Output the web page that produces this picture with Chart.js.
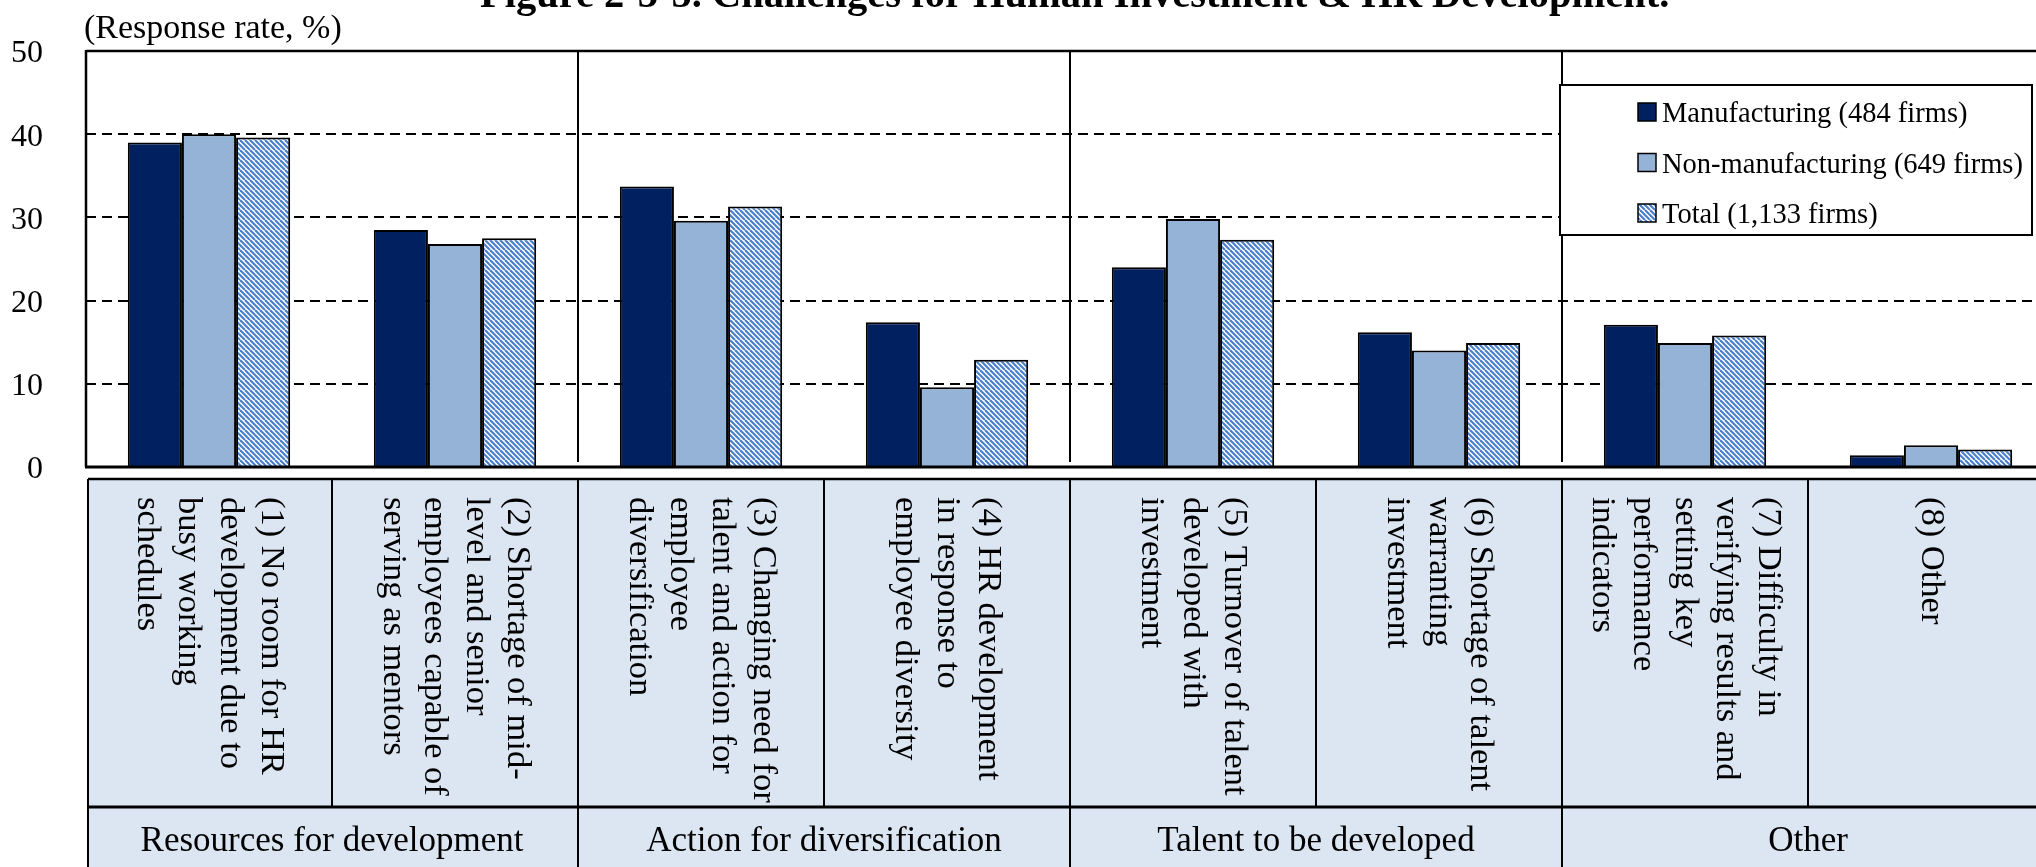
<!DOCTYPE html>
<html>
<head>
<meta charset="utf-8">
<script src="https://cdn.jsdelivr.net/npm/chart.js@4.4.1/dist/chart.umd.min.js"></script>
<style>
  html, body { margin: 0; padding: 0; background: #fff; overflow: hidden; width: 2036px; height: 867px; }
  #wrap { position: absolute; left: 0; top: 0; width: 2060px; height: 867px; }
  canvas { display: block; }
</style>
</head>
<body>
<div id="wrap"><canvas id="chart" width="2060" height="867" style="width:2060px;height:867px"></canvas></div>
<script>
// ---- data ----
const chartTitle = "Figure 2-3-5. Challenges for Human Investment & HR Development.";
const axisTitle = "(Response rate, %)";

const categoryLines = [
  ["(1) No room for HR", "development due to", "busy working", "schedules"],
  ["(2) Shortage of mid-", "level and senior", "employees capable of", "serving as mentors"],
  ["(3) Changing need for", "talent and action for", "employee", "diversification"],
  ["(4) HR development", "in response to", "employee diversity"],
  ["(5) Turnover of talent", "developed with", "investment"],
  ["(6) Shortage of talent", "warranting", "investment"],
  ["(7) Difficulty in", "verifying results and", "setting key", "performance", "indicators"],
  ["(8) Other"]
];
const groupNames = ["Resources for development", "Action for diversification", "Talent to be developed", "Other"];
const groupSpans = [2, 2, 2, 2];

const seriesNames = ["Manufacturing (484 firms)", "Non-manufacturing (649 firms)", "Total (1,133 firms)"];
const manufacturing    = [39.0, 28.5, 33.7, 17.4, 24.0, 16.2, 17.1, 1.4];
const nonManufacturing = [40.0, 26.8, 29.6,  9.6, 29.8, 14.0, 14.9, 2.6];
const total            = [39.6, 27.5, 31.3, 12.9, 27.3, 14.9, 15.8, 2.1];

const yTicks = [0, 10, 20, 30, 40, 50];

// ---- styles ----
const SERIF = "'Liberation Serif', 'Times New Roman', serif";
const NAVY = "#002060";
const LIGHT = "#95B3D7";
const TABLE_FILL = "#DCE6F2";

function hatchPattern() {
  const t = document.createElement("canvas");
  t.width = 10; t.height = 10;
  const g = t.getContext("2d");
  g.fillStyle = "#ffffff";
  g.fillRect(0, 0, 10, 10);
  g.strokeStyle = "#4A7FCC";
  g.lineWidth = 2.2;
  for (let k = -2; k <= 2; k++) {
    g.beginPath();
    g.moveTo(k * 5, 0);
    g.lineTo(k * 5 + 10, 10);
    g.stroke();
  }
  return g.createPattern(t, "repeat");
}
const HATCH = hatchPattern();

Chart.defaults.font.family = SERIF;
Chart.defaults.color = "#000";

function line(ctx, x1, y1, x2, y2) {
  ctx.beginPath();
  ctx.moveTo(x1, y1);
  ctx.lineTo(x2, y2);
  ctx.stroke();
}

// frame, category table, legend and headings
const decorations = {
  id: "decorations",
  afterDatasetsDraw(chart) {
    const { ctx, chartArea: a, scales: { x, y } } = chart;
    const cw = x.getPixelForValue(1) - x.getPixelForValue(0);
    const edge = i => x.getPixelForValue(i) - cw / 2;
    const y0 = y.getPixelForValue(0);
    const yTop = y.getPixelForValue(50);

    ctx.save();
    ctx.strokeStyle = "#000";

    // separators between groups inside the plot
    ctx.lineWidth = 2;
    let acc = 0;
    groupSpans.slice(0, -1).forEach(s => {
      acc += s;
      const px = Math.round(edge(acc));
      line(ctx, px, yTop, px, y0 - 5);
    });

    // plot frame
    ctx.lineWidth = 2.5;
    line(ctx, a.left, yTop, a.right, yTop);
    line(ctx, a.left, yTop - 1, a.left, y0);
    ctx.lineWidth = 3;
    line(ctx, a.left - 1, y0, a.right, y0);

    // category table
    const tLeft = edge(0) + 2;
    const tRight = edge(categoryLines.length);
    const tTop = y0 + 12;
    const tMid = y0 + 340;
    const tBot = chart.height + 10;
    ctx.fillStyle = TABLE_FILL;
    ctx.fillRect(tLeft, tTop, tRight - tLeft, tBot - tTop);

    ctx.lineWidth = 2.5;
    line(ctx, tLeft, tTop, tRight, tTop);
    ctx.lineWidth = 3;
    line(ctx, tLeft, tMid, tRight, tMid);
    ctx.lineWidth = 2;
    line(ctx, tLeft, tTop, tLeft, tBot);
    for (let i = 1; i < categoryLines.length; i++) {
      const px = Math.round(edge(i));
      line(ctx, px, tTop, px, tMid);
    }
    acc = 0;
    groupSpans.forEach(s => {
      acc += s;
      const px = Math.round(edge(acc));
      line(ctx, px, tMid, px, tBot);
    });

    // rotated category labels
    ctx.fillStyle = "#000";
    ctx.font = "34.5px " + SERIF;
    ctx.textAlign = "left";
    ctx.textBaseline = "middle";
    const lh = 41.5;
    categoryLines.forEach((lines, i) => {
      const cx = x.getPixelForValue(i);
      ctx.save();
      ctx.translate(cx, tTop + 18);
      ctx.rotate(Math.PI / 2);
      const n = lines.length;
      lines.forEach((t, k) => ctx.fillText(t, 0, (k - (n - 1) / 2) * lh));
      ctx.restore();
    });

    // group labels
    ctx.font = "35px " + SERIF;
    ctx.textAlign = "center";
    ctx.textBaseline = "middle";
    acc = 0;
    groupNames.forEach((g, gi) => {
      const from = edge(acc);
      acc += groupSpans[gi];
      const to = edge(acc);
      ctx.fillText(g, (from + to) / 2, tMid + 35);
    });

    // legend
    const lx1 = 1560, ly1 = 85, lx2 = 2032, ly2 = 235;
    ctx.fillStyle = "#fff";
    ctx.fillRect(lx1, ly1, lx2 - lx1, ly2 - ly1);
    ctx.lineWidth = 2;
    ctx.strokeRect(lx1, ly1, lx2 - lx1, ly2 - ly1);
    ctx.font = "28.5px " + SERIF;
    ctx.textAlign = "left";
    ctx.textBaseline = "alphabetic";
    chart.data.datasets.forEach((ds, k) => {
      const base = 122 + k * 50.5;
      ctx.fillStyle = ds.backgroundColor;
      ctx.fillRect(1638, base - 19, 18, 18);
      ctx.lineWidth = 1.5;
      ctx.strokeStyle = "#000";
      ctx.strokeRect(1638, base - 19, 18, 18);
      ctx.fillStyle = "#000";
      ctx.fillText(ds.label, 1662, base);
    });

    // headings
    ctx.font = "bold 40.5px " + SERIF;
    ctx.textAlign = "left";
    ctx.fillText(chartTitle, 480, 7);
    ctx.font = "34px " + SERIF;
    ctx.fillText(axisTitle, 84, 37.5);

    ctx.restore();
  }
};

new Chart(document.getElementById("chart"), {
  type: "bar",
  data: {
    labels: categoryLines.map(l => l.join(" ")),
    datasets: [
      { label: seriesNames[0], data: manufacturing, backgroundColor: NAVY },
      { label: seriesNames[1], data: nonManufacturing, backgroundColor: LIGHT },
      { label: seriesNames[2], data: total, backgroundColor: HATCH }
    ]
  },
  options: {
    responsive: false,
    animation: false,
    devicePixelRatio: 1,
    layout: { padding: { top: 51, right: 6, left: 0, bottom: 0 } },
    datasets: {
      bar: {
        borderColor: "#000",
        borderWidth: 2,
        categoryPercentage: 0.66,
        barPercentage: 1.0
      }
    },
    plugins: {
      legend: { display: false },
      title: { display: false },
      tooltip: { enabled: false }
    },
    scales: {
      x: {
        grid: { display: false },
        border: { display: false },
        ticks: { display: false },
        afterFit(scale) { scale.height = 400; }
      },
      y: {
        min: 0,
        max: 50,
        afterBuildTicks(scale) { scale.ticks = yTicks.map(v => ({ value: v })); },
        afterFit(scale) { scale.width = 86; },
        border: { display: false, dash: [10, 6] },
        grid: {
          drawTicks: true,
          tickLength: 35,
          tickColor: "rgba(0,0,0,0)",
          lineWidth: 2,
          color: c => (c.tick && (c.tick.value === 0 || c.tick.value === 50)) ? "rgba(0,0,0,0)" : "#000"
        },
        ticks: {
          padding: 8,
          labelOffset: 3,
          font: { size: 32, family: SERIF },
          color: "#000"
        }
      }
    }
  },
  plugins: [decorations]
});
</script>
</body>
</html>
